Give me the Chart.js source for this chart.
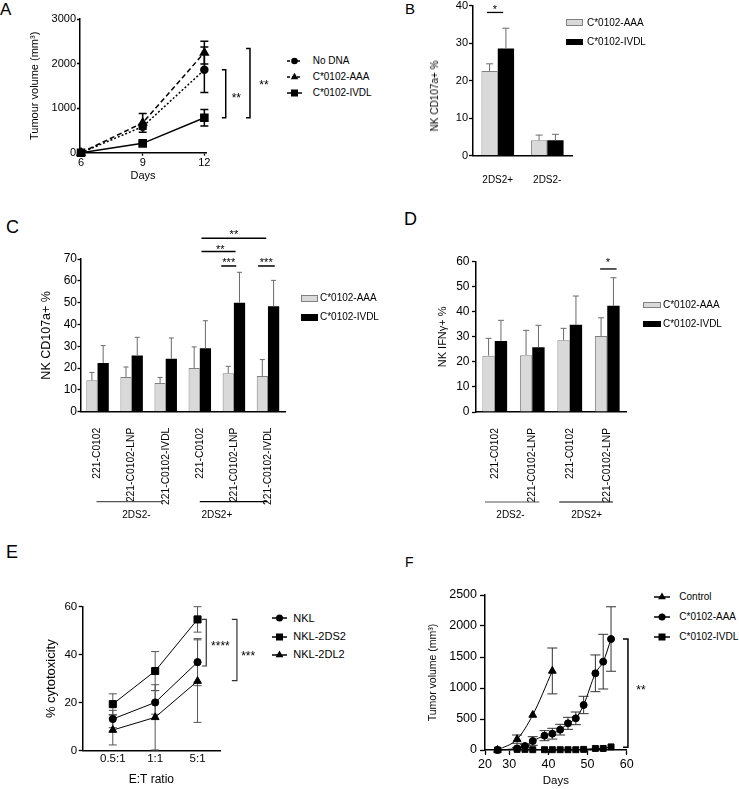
<!DOCTYPE html>
<html>
<head>
<meta charset="utf-8">
<script src="https://cdn.jsdelivr.net/npm/chart.js@4.4.0/dist/chart.umd.min.js"></script>
<style>
  html, body { margin: 0; padding: 0; background: #fff; }
  body { width: 739px; height: 789px; position: relative; overflow: hidden;
         font-family: "Liberation Sans", Arial, sans-serif; color: #000; }
  canvas { position: absolute; }
  .letter { position: absolute; white-space: nowrap; }
  .txt { position: absolute; white-space: nowrap; }
  .sw { position: absolute; box-sizing: border-box; }
  svg { position: absolute; overflow: visible; }
</style>
</head>
<body>
<div class="letter" style="left:0px;top:1px;font-size:17px;line-height:17px">A</div>
<div class="letter" style="left:405px;top:1px;font-size:15px;line-height:15px">B</div>
<div class="letter" style="left:6px;top:217.5px;font-size:18px;line-height:18px">C</div>
<div class="letter" style="left:404px;top:210px;font-size:18px;line-height:18px">D</div>
<div class="letter" style="left:6px;top:542.5px;font-size:18px;line-height:18px">E</div>
<div class="letter" style="left:405px;top:555px;font-size:14px;line-height:14px">F</div>

<canvas id="cA" width="256" height="187" style="left:24px;top:0px"></canvas>
<canvas id="cB" width="140" height="195" style="left:440px;top:-10px"></canvas>
<canvas id="cC" width="261" height="305" style="left:35px;top:220px"></canvas>
<canvas id="cD" width="204" height="305" style="left:432px;top:220px"></canvas>
<canvas id="cE" width="222" height="201" style="left:40px;top:590px"></canvas>
<canvas id="cF" width="229" height="212" style="left:423px;top:580px"></canvas>

<div id="legends"></div>

<script>
// ---- panel A: tumour volume (mm3) by day ----
const aDays = [6, 9, 12];
const aNoDna = [0, 585, 1860];
const aNoDnaErr = [0, 60, 510];
const aAAA = [0, 670, 2245];
const aAAAErr = [0, 210, 255];
const aIVDL = [0, 210, 785];
const aIVDLErr = [0, 30, 185];

// ---- panel B: NK CD107a+ % ----
const bGroups = ['2DS2+', '2DS2-'];
const bAAA = [22.6, 4.1];
const bAAAErr = [1.9, 1.4];
const bIVDL = [28.6, 4.1];
const bIVDLErr = [5.4, 1.6];

// ---- panel C: NK CD107a+ % by target ----
const cLabels = ['221-C0102', '221-C0102-LNP', '221-C0102-IVDL', '221-C0102', '221-C0102-LNP', '221-C0102-IVDL'];
const cAAA = [14.4, 15.9, 13.1, 20.0, 17.6, 16.4];
const cAAAErr = [3.6, 4.6, 2.6, 9.7, 3.2, 7.5];
const cIVDL = [22.3, 25.8, 24.3, 29.1, 50.0, 48.3];
const cIVDLErr = [8.0, 8.3, 9.5, 12.6, 13.9, 11.9];

// ---- panel D: NK IFNg+ % by target ----
const dLabels = ['221-C0102', '221-C0102-LNP', '221-C0102', '221-C0102-LNP'];
const dAAA = [22.5, 22.7, 28.6, 30.3];
const dAAAErr = [6.9, 9.9, 4.8, 7.3];
const dIVDL = [28.3, 25.8, 34.8, 42.4];
const dIVDLErr = [8.3, 8.8, 11.5, 11.2];

// ---- panel E: % cytotoxicity by E:T ratio ----
const eRatios = ['0.5:1', '1:1', '5:1'];
const eNKL = [13.2, 20.1, 36.9];
const eNKLErr = [3.6, 4.9, 9.8];
const eNKL2DS2 = [19.4, 33.2, 54.7];
const eNKL2DS2Err = [4.3, 8.1, 5.3];
const eNKL2DL2 = [8.6, 13.9, 29.0];
const eNKL2DL2Err = [6.2, 13.6, 17.2];

// ---- panel F: tumor volume (mm3) by day ----
const fCtrlDays = [27, 32, 36, 41];
const fCtrl = [0, 175, 565, 1275];
const fCtrlErr = [0, 67, 0, 370];
const fDays = [27, 32, 34, 36, 39, 41, 43, 45, 47, 49, 52, 54, 56];
const fAAA = [0, 27, 65, 145, 231, 263, 328, 430, 511, 726, 1237, 1425, 1790];
const fAAAErr = [0, 15, 20, 70, 81, 87, 86, 97, 102, 140, 296, 441, 520];
const fIVDL = [0, 10, 10, 5, 5, 5, 5, 5, 5, 10, 25, 25, 50];

const FONT = "'Liberation Sans', Arial, sans-serif";
Chart.defaults.font.family = FONT;
Chart.defaults.color = '#000';
Chart.defaults.animation = false;
Chart.defaults.responsive = false;
Chart.defaults.devicePixelRatio = 1;
Chart.defaults.plugins.legend.display = false;
Chart.defaults.plugins.tooltip.enabled = false;

const GREY = '#d9d9d9';
const GREY_EDGE = '#808080';

function pts(xs, ys) {
	return xs.map((x, i) => ({x, y: ys[i]}));
}

function fixedTicks(values) {
	return scale => {
		scale.ticks = values.map(v => ({value: v}));
	};
}

// y axis in the Prism look: black spine, outward ticks, no grid
function yAxis(o) {
	return {
		min: 0,
		max: o.max,
		ticks: {stepSize: o.step, font: {size: o.size}, padding: o.pad, callback: v => String(v)},
		grid: {drawOnChartArea: false, tickLength: o.tl, color: '#000', tickWidth: 1.3},
		border: {display: true, color: '#000', width: 1.5},
		title: o.title
			? {display: true, text: o.title, font: {size: o.titleSize}, padding: {top: 4, bottom: 4}}
			: {display: false},
		afterFit(scale) {
			scale.width = o.width;
		},
	};
}

// error bars, drawn under line points or over bars
const errorBars = {
	id: 'errorBars',
	beforeDatasetsDraw(chart) {
		drawErrors(chart, 'before');
	},
	afterDatasetsDraw(chart) {
		drawErrors(chart, 'after');
	},
};

function drawErrors(chart, phase) {
	const {ctx} = chart;
	chart.data.datasets.forEach((ds, i) => {
		if (!ds.errors || (ds.errPhase || 'before') !== phase) {
			return;
		}
		const meta = chart.getDatasetMeta(i);
		const ys = chart.scales[meta.yAxisID];
		ctx.save();
		ctx.strokeStyle = ds.errColor || '#000';
		ctx.lineWidth = ds.errWidth || 1;
		meta.data.forEach((el, j) => {
			const e = ds.errors[j];
			if (!e) {
				return;
			}
			const raw = ds.data[j];
			const v = typeof raw === 'object' ? raw.y : raw;
			const top = ys.getPixelForValue(v + e);
			const bot = ds.errUp ? ys.getPixelForValue(v) : ys.getPixelForValue(v - e);
			const x = el.x;
			const c = ds.errCap || 4;
			ctx.beginPath();
			ctx.moveTo(x, top);
			ctx.lineTo(x, bot);
			ctx.moveTo(x - c, top);
			ctx.lineTo(x + c, top);
			if (!ds.errUp) {
				ctx.moveTo(x - c, bot);
				ctx.lineTo(x + c, bot);
			}
			ctx.stroke();
		});
		ctx.restore();
	});
}

// helpers for the significance marks, in data units
function X(chart, v) {
	const s = chart.scales.x;
	if (s.type === 'category') {
		const p0 = s.getPixelForValue(0);
		const p1 = s.getPixelForValue(1);
		return p0 + (v * (p1 - p0));
	}
	return s.getPixelForValue(v);
}

function Y(chart, v) {
	return chart.scales.y.getPixelForValue(v);
}

function hline(chart, x0, x1, v, w) {
	const {ctx} = chart;
	ctx.lineWidth = w || 1.5;
	ctx.beginPath();
	ctx.moveTo(X(chart, x0), Y(chart, v));
	ctx.lineTo(X(chart, x1), Y(chart, v));
	ctx.stroke();
}

function bracket(chart, x, capX, top, bottom, w) {
	const {ctx} = chart;
	const px = X(chart, x);
	const pc = X(chart, capX);
	const pt = Y(chart, top);
	const pb = Y(chart, bottom);
	ctx.lineWidth = w || 1.5;
	ctx.beginPath();
	ctx.moveTo(pc, pt);
	ctx.lineTo(px, pt);
	ctx.lineTo(px, pb);
	ctx.lineTo(pc, pb);
	ctx.stroke();
}

function stars(chart, text, x, v, size, align) {
	const {ctx} = chart;
	ctx.font = size + 'px ' + FONT;
	ctx.textAlign = align || 'center';
	ctx.textBaseline = 'alphabetic';
	ctx.fillText(text, X(chart, x), Y(chart, v) + (0.57 * size));
}

function groupLabel(chart, x0, x1, tx, text, color) {
	const {ctx} = chart;
	const y = chart.chartArea.bottom + 90;
	ctx.strokeStyle = color;
	ctx.lineWidth = 1.2;
	ctx.beginPath();
	ctx.moveTo(X(chart, x0), y);
	ctx.lineTo(X(chart, x1), y);
	ctx.stroke();
	ctx.fillStyle = '#000';
	ctx.font = '10px ' + FONT;
	ctx.textAlign = 'center';
	ctx.textBaseline = 'middle';
	ctx.fillText(text, X(chart, tx), y + 13.5);
}

function marks(id, fn) {
	return {
		id,
		afterDraw(chart) {
			chart.ctx.save();
			chart.ctx.strokeStyle = '#000';
			chart.ctx.fillStyle = '#000';
			fn(chart);
			chart.ctx.restore();
		},
	};
}

// ---------------- A ----------------
function lineSet(label, xs, ys, errs, o) {
	return Object.assign({
		label,
		data: pts(xs, ys),
		errors: errs,
		borderColor: '#000',
		backgroundColor: '#000',
		pointBackgroundColor: '#000',
		pointBorderColor: '#000',
		borderWidth: 1.5,
		clip: false,
	}, o);
}

new Chart(document.querySelector('#cA'), {
	type: 'line',
	data: {
		datasets: [
			lineSet('No DNA', aDays, aNoDna, aNoDnaErr, {borderDash: [2, 2], pointStyle: 'circle', pointRadius: 3.5, errCap: 4, errWidth: 1.5}),
			lineSet('C*0102-AAA', aDays, aAAA, aAAAErr, {borderDash: [5, 3], pointStyle: 'triangle', pointRadius: 4.5, errCap: 4, errWidth: 1.5}),
			lineSet('C*0102-IVDL', aDays, aIVDL, aIVDLErr, {pointStyle: 'rect', pointRadius: 5, errCap: 4, errWidth: 1.5}),
		],
	},
	options: {
		layout: {padding: {top: 19, right: 74, left: 0, bottom: 0}},
		scales: {
			x: {
				type: 'linear',
				min: 5.95,
				max: 12.08,
				afterBuildTicks: fixedTicks([6, 9, 12]),
				ticks: {font: {size: 11}, padding: 1},
				grid: {drawOnChartArea: false, tickLength: 3, color: '#000', tickWidth: 1.3},
				border: {display: true, color: '#000', width: 1.5},
				title: {display: true, text: 'Days', font: {size: 11}, padding: {top: 4, bottom: 4}},
				afterFit(scale) {
					scale.height = 34.3;
				},
			},
			y: yAxis({max: 3000, step: 1000, size: 11, pad: 1, tl: 3, width: 56, title: 'Tumour volume (mm³)', titleSize: 11}),
		},
	},
	plugins: [errorBars, marks('marksA', chart => {
		bracket(chart, 13.04, 12.85, 1860, 785);
		bracket(chart, 14.22, 14.03, 2340, 785);
		stars(chart, '**', 13.33, 1300, 12, 'left');
		stars(chart, '**', 14.67, 1590, 12, 'left');
	})],
});

// ---------------- bar panels ----------------
function barSets(aaa, aaaErr, ivdl, ivdlErr, cap) {
	return [
		{
			label: 'C*0102-AAA',
			data: aaa,
			errors: aaaErr,
			errUp: true,
			errPhase: 'after',
			errColor: '#6b6b6b',
			errCap: cap,
			backgroundColor: GREY,
			borderColor: GREY_EDGE,
			borderWidth: 1,
			barPercentage: 1,
			categoryPercentage: 0.66,
		},
		{
			label: 'C*0102-IVDL',
			data: ivdl,
			errors: ivdlErr,
			errUp: true,
			errPhase: 'after',
			errColor: '#6b6b6b',
			errCap: cap,
			backgroundColor: '#000',
			borderColor: '#000',
			borderWidth: 0,
			barPercentage: 1,
			categoryPercentage: 0.66,
		},
	];
}

function catAxis(o) {
	return {
		type: 'category',
		ticks: {
			font: {size: o.size},
			padding: o.pad,
			minRotation: o.rot,
			maxRotation: o.rot,
			autoSkip: false,
		},
		grid: {display: false},
		border: {display: true, color: '#000', width: 1.5},
		afterFit(scale) {
			scale.height = o.height;
		},
	};
}

// B
new Chart(document.querySelector('#cB'), {
	type: 'bar',
	data: {labels: bGroups, datasets: barSets(bAAA, bAAAErr, bIVDL, bIVDLErr, 3.5)},
	options: {
		layout: {padding: {top: 15.7, right: 8, left: 0, bottom: 0}},
		scales: {
			x: catAxis({size: 10, pad: 11, rot: 0, height: 29.3}),
			y: yAxis({max: 40, step: 10, size: 11, pad: 1, tl: 4, width: 33}),
		},
	},
	plugins: [errorBars, marks('marksB', chart => {
		hline(chart, -0.22, 0.11, 38.2, 1.3);
		stars(chart, '*', -0.06, 39.7, 11);
	})],
});

// C
new Chart(document.querySelector('#cC'), {
	type: 'bar',
	data: {labels: cLabels, datasets: barSets(cAAA, cAAAErr, cIVDL, cIVDLErr, 2.5)},
	options: {
		layout: {padding: {top: 39, right: 11, left: 0, bottom: 0}},
		scales: {
			x: catAxis({size: 10.3, pad: 8, rot: 90, height: 113.3}),
			y: yAxis({max: 70, step: 10, size: 12, pad: 0.5, tl: 3, width: 45.5, title: 'NK CD107a+ %', titleSize: 12.5}),
		},
	},
	plugins: [errorBars, marks('marksC', chart => {
		hline(chart, 3.05, 4.95, 79.5);
		stars(chart, '**', 4.0, 82.5, 11);
		hline(chart, 3.05, 4.05, 73.4);
		stars(chart, '**', 3.6, 75.7, 11);
		hline(chart, 3.63, 4.07, 66.8);
		stars(chart, '***', 3.85, 69.6, 11);
		hline(chart, 4.71, 5.2, 66.8);
		stars(chart, '***', 4.95, 69.6, 11);
		groupLabel(chart, -0.03, 1.93, 1.14, '2DS2-', '#555');
		groupLabel(chart, 3.0, 4.98, 3.5, '2DS2+', '#000');
	})],
});

// D
new Chart(document.querySelector('#cD'), {
	type: 'bar',
	data: {labels: dLabels, datasets: barSets(dAAA, dAAAErr, dIVDL, dIVDLErr, 3)},
	options: {
		layout: {padding: {top: 41.7, right: 10, left: 0, bottom: 0}},
		scales: {
			x: catAxis({size: 10.3, pad: 8, rot: 90, height: 113}),
			y: yAxis({max: 60, step: 10, size: 12, pad: 2.5, tl: 4, width: 44, title: 'NK IFNγ+ %', titleSize: 11}),
		},
	},
	plugins: [errorBars, marks('marksD', chart => {
		hline(chart, 2.81, 3.25, 57.1, 1.3);
		stars(chart, '*', 3.02, 60.6, 11);
		groupLabel(chart, -0.26, 1.19, 0.42, '2DS2-', '#555');
		groupLabel(chart, 1.72, 3.15, 2.45, '2DS2+', '#000');
	})],
});

// ---------------- E ----------------
const eIdx = eRatios.map((r, i) => i);
new Chart(document.querySelector('#cE'), {
	type: 'line',
	data: {
		datasets: [
			lineSet('NKL', eIdx, eNKL, eNKLErr, {borderWidth: 1, pointStyle: 'circle', pointRadius: 3.6, errColor: '#555', errCap: 4}),
			lineSet('NKL-2DS2', eIdx, eNKL2DS2, eNKL2DS2Err, {borderWidth: 1, pointStyle: 'rect', pointRadius: 5, errColor: '#555', errCap: 4}),
			lineSet('NKL-2DL2', eIdx, eNKL2DL2, eNKL2DL2Err, {borderWidth: 1, pointStyle: 'triangle', pointRadius: 4.5, errColor: '#555', errCap: 4}),
		],
	},
	options: {
		layout: {padding: {top: 16.7, right: 42, left: 0, bottom: 0}},
		scales: {
			x: {
				type: 'linear',
				min: -0.71,
				max: 2.53,
				afterBuildTicks: fixedTicks(eIdx),
				ticks: {font: {size: 11.5}, padding: 1, callback: v => eRatios[v]},
				grid: {drawOnChartArea: false, drawTicks: false},
				border: {display: true, color: '#000', width: 1.5},
				title: {display: true, text: 'E:T ratio', font: {size: 12}, padding: {top: 4, bottom: 4}},
				afterFit(scale) {
					scale.height = 40.3;
				},
			},
			y: yAxis({max: 60, step: 20, size: 11.5, pad: 1.5, tl: 4, width: 42.7, title: '% cytotoxicity', titleSize: 13}),
		},
	},
	plugins: [errorBars, marks('marksE', chart => {
		chart.ctx.strokeStyle = '#333';
		bracket(chart, 2.206, 2.104, 54.7, 35.3, 1.2);
		bracket(chart, 2.93, 2.81, 54.7, 29.2, 1.2);
		stars(chart, '****', 2.32, 44.9, 12, 'left');
		stars(chart, '***', 3.03, 40.7, 12, 'left');
	})],
});

// ---------------- F ----------------
new Chart(document.querySelector('#cF'), {
	type: 'line',
	data: {
		datasets: [
			lineSet('Control', fCtrlDays, fCtrl, fCtrlErr, {borderWidth: 1, tension: 0.4, cubicInterpolationMode: 'monotone', pointStyle: 'triangle', pointRadius: 4.5, errColor: '#333', errCap: 5}),
			lineSet('C*0102-AAA', fDays, fAAA, fAAAErr, {borderWidth: 1, tension: 0.4, cubicInterpolationMode: 'monotone', pointStyle: 'circle', pointRadius: 3.5, errColor: '#333', errCap: 5}),
			lineSet('C*0102-IVDL', fDays, fIVDL, null, {borderWidth: 1, pointStyle: 'rect', pointRadius: 4.2}),
		],
	},
	options: {
		layout: {padding: {top: 15, right: 25.3, left: 0, bottom: 0}},
		scales: {
			x: {
				type: 'linear',
				min: 23.8,
				max: 60,
				afterBuildTicks: fixedTicks([23.8, 30, 40, 50, 60]),
				ticks: {font: {size: 12.5}, padding: 2.5, callback: v => (v < 25 ? '20' : String(v))},
				grid: {drawOnChartArea: false, tickLength: 5, color: '#000', tickWidth: 1.3},
				border: {display: true, color: '#000', width: 1.5},
				title: {display: true, text: 'Days', font: {size: 11.5}, padding: {top: 4, bottom: 4}},
				afterFit(scale) {
					scale.height = 42;
				},
			},
			y: yAxis({max: 2500, step: 500, size: 12.5, pad: 3, tl: 5, width: 62, title: 'Tumor volume (mm³)', titleSize: 10.5}),
		},
	},
	plugins: [errorBars, marks('marksF', chart => {
		bracket(chart, 60.32, 59.05, 1790, 45, 1.5);
		stars(chart, '**', 62.46, 1020, 12, 'left');
	})],
});

// ---------------- legends (HTML) ----------------
const legendBox = document.querySelector('#legends');

function marker(shape, cx, cy, r) {
	if (shape === 'circle') {
		return `<circle cx="${cx}" cy="${cy}" r="${r}" fill="#000"/>`;
	}
	if (shape === 'rect') {
		return `<rect x="${cx - r}" y="${cy - r}" width="${2 * r}" height="${2 * r}" fill="#000"/>`;
	}
	return `<polygon points="${cx},${cy - r} ${cx + (r * 0.87)},${cy + (r * 0.5)} ${cx - (r * 0.87)},${cy + (r * 0.5)}" fill="#000"/>`;
}

function lineRow(x0, x1, y, shape, r, dash, tx, text, size) {
	const w = x1 - x0;
	const dashAttr = dash ? ` stroke-dasharray="${dash}"` : '';
	legendBox.insertAdjacentHTML('beforeend',
		`<svg style="left:${x0}px;top:${y - 6}px" width="${w}" height="12">`
		+ `<line x1="0" y1="6" x2="${w}" y2="6" stroke="#000" stroke-width="1.5"${dashAttr}/>`
		+ marker(shape, w / 2, 6, r) + '</svg>'
		+ `<div class="txt" style="left:${tx}px;top:${y - (size * 0.6)}px;font-size:${size}px;line-height:${size * 1.2}px">${text}</div>`);
}

function swatchRow(x0, x1, y0, y1, fill, edge, tx, text, size) {
	const yc = (y0 + y1) / 2;
	legendBox.insertAdjacentHTML('beforeend',
		`<div class="sw" style="left:${x0}px;top:${y0}px;width:${x1 - x0}px;height:${y1 - y0}px;background:${fill};border:1px solid ${edge}"></div>`
		+ `<div class="txt" style="left:${tx}px;top:${yc - (size * 0.6)}px;font-size:${size}px;line-height:${size * 1.2}px">${text}</div>`);
}

// A
lineRow(287, 302, 61, 'circle', 3.3, '3,2', 312.7, 'No DNA', 10);
lineRow(287, 302, 77.3, 'triangle', 4.3, '3,2', 312.7, 'C*0102-AAA', 10);
lineRow(287, 302, 93.3, 'rect', 3.5, null, 312.7, 'C*0102-IVDL', 10);
// B
swatchRow(566, 583, 19.3, 26, GREY, GREY_EDGE, 587, 'C*0102-AAA', 10);
swatchRow(566, 583, 38.5, 45.2, '#000', '#000', 587, 'C*0102-IVDL', 10);
// C
swatchRow(301, 318, 295, 301.7, GREY, GREY_EDGE, 320, 'C*0102-AAA', 10);
swatchRow(301, 318, 314, 320.5, '#000', '#000', 320, 'C*0102-IVDL', 10);
// D
swatchRow(643, 661, 301.7, 308.3, GREY, GREY_EDGE, 663, 'C*0102-AAA', 10);
swatchRow(643, 661, 320.7, 327.3, '#000', '#000', 663, 'C*0102-IVDL', 10);
// E
lineRow(271.7, 286.7, 618.3, 'circle', 3.5, null, 293.3, 'NKL', 11);
lineRow(271.7, 286.7, 636.7, 'rect', 3.5, null, 293.3, 'NKL-2DS2', 11);
lineRow(271.7, 286.7, 655, 'triangle', 4.5, null, 293.3, 'NKL-2DL2', 11);
// F
lineRow(654, 670, 596.7, 'triangle', 4.5, null, 679.3, 'Control', 10);
lineRow(654, 670, 617.3, 'circle', 3.5, null, 679.3, 'C*0102-AAA', 10);
lineRow(654, 670, 637.3, 'rect', 3.5, null, 679.3, 'C*0102-IVDL', 10);

// B y title sits lower than the axis centre in the original
legendBox.insertAdjacentHTML('beforeend',
	'<div class="txt" style="left:435px;top:95.5px;font-size:10px;line-height:12px;transform:translate(-50%,-50%) rotate(-90deg)">NK CD107a+ %</div>');
</script>
</body>
</html>
